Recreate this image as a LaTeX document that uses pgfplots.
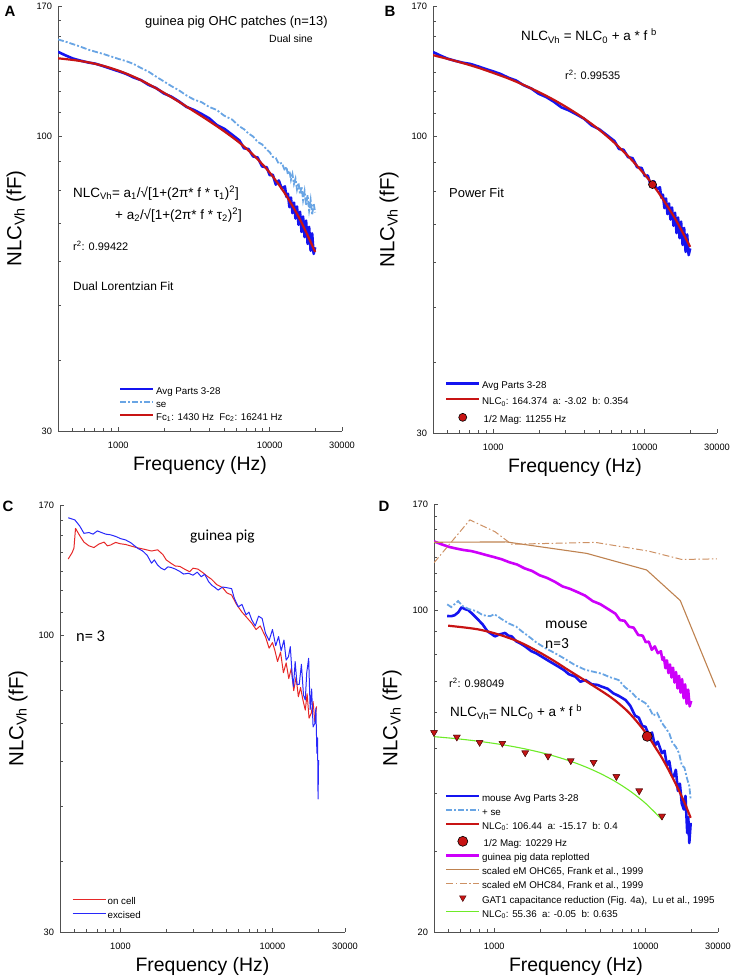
\documentclass[border=0pt]{standalone}
\usepackage{fontspec}
\setmainfont{Liberation Sans}
\newfontfamily\calib{Carlito}
\usepackage{pgfplots}
\usepackage{pgfplotstable}
\pgfplotsset{compat=1.18}

\definecolor{avgblue}{RGB}{20,20,240}
\definecolor{seblue}{RGB}{105,165,228}
\definecolor{fitred}{RGB}{200,20,20}
\definecolor{magenta2}{RGB}{205,0,250}
\definecolor{brown1}{RGB}{190,130,80}
\definecolor{brown2}{RGB}{205,145,100}
\definecolor{green1}{RGB}{110,235,40}
\definecolor{axgray}{RGB}{80,80,80}
\definecolor{cred}{RGB}{230,40,40}
\definecolor{cblue}{RGB}{40,40,250}
\definecolor{tridark}{RGB}{90,20,20}

% guinea pig OHC patches: frequency, average, average + se
\pgfplotstableread{
f avg se
400 141.0 148.3
447 139.0 147.0
501 137.2 145.5
562 136.0 144.0
631 135.0 142.3
708 134.3 141.0
794 133.0 139.8
891 131.6 138.4
1000 130.3 137.0
1122 128.9 135.8
1259 127.0 134.2
1413 125.6 132.0
1585 123.2 130.0
1778 121.6 127.4
1995 119.0 125.0
2239 117.4 122.6
2512 115.2 120.5
2818 112.6 118.0
3162 111.2 116.0
3548 109.4 114.8
3981 107.5 112.6
4467 104.6 111.2
5012 103.0 108.6
5623 100.6 107.0
6310 98.2 104.0
6761 95.1 102.8
7244 94.8 101.0
7762 92.0 99.8
8318 91.6 97.6
8913 88.3 96.6
9550 88.0 94.6
10000 85.2 93.6
10471 85.4 91.8
10965 82.0 91.4
11482 83.4 89.2
12023 80.6 89.6
12589 81.4 86.8
12882 78.0 88.2
13183 79.0 85.4
13490 74.8 86.8
13804 77.8 83.6
14125 73.0 85.6
14454 76.2 82.2
14791 71.4 84.0
15136 75.0 80.4
15488 69.6 82.6
15849 73.4 78.8
16218 67.6 81.4
16596 72.0 77.0
16982 66.2 79.8
17378 70.8 75.4
17783 64.4 78.6
18197 69.0 73.8
18621 62.6 77.0
19055 67.2 72.4
19498 61.8 76.0
19953 63.5 73.2
}\gpdata

\pgfplotstableread{
f y
400 137.3
500 136.4
630 135.1
800 133.1
1000 130.6
1260 127.4
1580 123.6
2000 119.3
2510 115.0
3160 110.6
3980 106.3
5010 101.9
6310 97.3
7940 92.1
10000 86.1
12590 79.1
15850 71.1
19950 62.3
}\fitA

\pgfplotstableread{
f y
400 139.2
500 137.1
630 134.8
800 132.2
1000 129.5
1260 126.6
1580 123.4
2000 119.8
2510 116.1
3160 112.0
3980 107.6
5010 102.8
6310 97.5
7940 91.8
10000 85.7
11255 82.3
12590 79.0
15850 71.7
19950 63.9
}\fitB

\pgfplotstableread{
f y
453 136.5
480 140.0
494 142.6
506 154.6
540 150.0
575 146.2
620 144.0
669 143.0
720 145.0
780 146.2
820 144.0
862 144.5
930 146.0
1000 145.2
1080 144.8
1170 143.9
1300 142.8
1435 142.0
1600 141.0
1755 141.7
1900 139.0
2000 136.0
2153 134.1
2300 132.6
2450 132.5
2640 131.0
2850 129.6
3000 131.5
3234 131.0
3500 129.0
3700 127.4
3974 125.7
4300 123.0
4700 121.5
5000 119.0
5385 117.9
5800 113.5
6300 110.0
6800 107.5
7300 105.2
7800 102.5
8300 104.0
8990 99.6
9500 95.0
10000 97.2
10350 94.3
10800 90.0
11300 93.5
11800 86.0
12300 89.5
12800 84.0
13300 87.5
13800 80.0
14300 84.5
14800 78.0
15300 81.0
15860 77.0
16440 73.9
16900 79.0
17400 71.5
18000 73.0
18500 76.5
19000 70.5
19500 75.0
}\oncell

\pgfplotstableread{
f y
453 161.4
501 160.0
540 156.0
575 151.5
620 152.0
660 151.0
704 153.0
750 152.0
800 151.0
860 150.6
930 149.6
1000 148.3
1080 147.5
1170 145.8
1296 142.6
1400 141.0
1500 138.5
1600 134.2
1670 136.0
1754 133.2
1850 131.5
1946 130.6
2050 132.2
2151 131.9
2300 131.0
2450 129.8
2600 128.4
2803 128.8
3000 127.8
3200 129.4
3400 127.0
3584 128.3
3800 124.5
4000 122.6
4200 121.5
4387 120.3
4700 121.8
5000 121.5
5385 121.0
5600 116.5
5953 112.4
6300 113.5
6700 108.8
7000 110.0
7307 106.6
7700 104.0
8100 108.2
8550 107.2
8990 101.0
9500 98.0
10000 102.5
10500 96.0
10970 99.6
11400 94.0
11900 98.2
12300 90.5
12740 91.8
13100 95.6
13500 84.5
13740 81.3
14100 90.0
14500 82.0
15000 82.0
15500 89.0
16000 78.5
16440 77.0
16800 86.0
17300 91.2
17700 74.0
18100 80.5
18500 69.0
19000 70.0
19300 74.5
19600 62.0
19800 66.0
19950 51.5
20100 60.3
}\excised

\pgfplotstableread{
f y
489 97.1
520 97.0
549 97.5
580 99.0
608 101.4
640 100.5
673 100.0
720 98.0
783 95.3
840 93.0
900 90.0
1010 87.7
1080 88.5
1177 89.2
1240 88.0
1302 87.7
1400 85.5
1500 84.5
1597 83.4
1750 81.5
1900 80.5
2052 79.3
2300 77.5
2650 75.4
2900 74.0
3100 72.6
3425 71.7
3700 69.9
4000 70.5
4400 69.0
4800 68.8
5120 68.2
5600 67.5
6100 66.0
6700 65.0
7360 63.8
7900 62.0
8500 59.0
9000 58.4
9500 56.0
9960 55.8
10500 53.5
11000 54.2
11500 50.8
12000 51.8
12780 48.9
13300 49.5
13800 46.0
14300 47.0
14800 43.8
15300 43.5
15800 45.0
16300 40.5
16800 42.0
17300 38.0
17850 36.9
18300 39.5
18800 32.8
19100 35.5
19400 31.2
19800 34.5
}\mouseavg

\pgfplotstableread{
f y
489 102.9
520 101.5
577 104.6
620 102.0
680 100.5
760 99.5
840 97.5
940 97.0
1000 98.0
1118 95.6
1250 93.5
1400 92.0
1515 90.0
1700 87.5
1900 85.0
2200 82.5
2520 80.6
2900 78.5
3400 76.0
3990 74.2
4500 73.5
5100 72.8
5800 71.5
6620 70.5
7300 68.0
8000 66.5
8700 64.5
9960 62.8
10500 61.5
11200 59.0
11900 59.8
12780 56.9
13500 55.5
14300 54.0
15000 51.5
15800 50.5
16600 48.9
17300 46.0
18000 45.5
18800 42.9
19400 41.5
19800 38.8
}\mousese

\pgfplotstableread{
f y
496 92.5
650 91.6
783 90.8
950 89.5
1118 88.1
1400 85.8
1680 83.4
2050 80.5
2525 77.3
3100 74.0
3770 71.1
4600 68.2
5680 65.2
6600 62.8
7700 60.0
9000 56.6
10400 53.2
11500 50.5
12780 47.8
14500 44.3
16600 40.5
18200 37.9
19800 35.4
}\fitD

\pgfplotstableread{
f y
400 140.4
1207 140.6
4070 132.8
10140 122.2
16900 104.9
29000 68.0
}\ohcA

\pgfplotstableread{
f y
400 126.7
690 157.0
1010 148.0
1302 139.0
4650 140.3
10450 134.3
17300 128.8
29500 129.2
}\ohcB

\pgfplotstableread{
f y
400 54.2
566 53.0
800 51.6
1131 51.4
1600 49.0
2263 48.2
3200 47.1
4525 46.7
6400 43.5
9051 40.5
12800 35.7
}\gatone

\pgfplotstableread{
f y
400 53.11
500 52.77
630 52.36
800 51.87
1000 51.34
1260 50.71
1580 49.99
2000 49.12
2510 48.15
3160 47.02
3980 45.70
5010 44.18
6310 42.42
7940 40.39
10000 38.02
12800 35.08
}\gatfit

\pgfplotsset{
  every axis/.append style={
    scale only axis, xmode=log, ymode=log,
    xmin=400, xmax=30000,
    axis x line*=bottom, axis y line*=left,
    axis line style={-, axgray, line width=0.8bp},
    major tick style={axgray, line width=0.7bp},
    minor tick style={axgray, line width=0.7bp},
    major tick length=4bp, minor tick length=2.7bp,
    xtick={1000,10000,30000}, xticklabels={1000,10000,30000},
    minor xtick={500,600,700,800,900,2000,3000,4000,5000,6000,7000,8000,9000,20000},
    tick label style={font=\fontsize{9.3}{10}\selectfont, text=black},
    xticklabel style={yshift=-7.5bp},
    yticklabel style={xshift=-2.5bp},
    xlabel={Frequency (Hz)},
    ylabel={NLC\textsubscript{Vh} (fF)},
    x label style={at={(axis description cs:0.5,0)}, anchor=north, yshift=-22bp, font=\fontsize{19.5}{22}\selectfont},
    y label style={anchor=center, font=\fontsize{20.5}{24}\selectfont},
    legend cell align=left,
    legend style={anchor=north west, draw=none, fill=none,
      inner sep=0pt, outer sep=0pt, column sep=1.5bp,
      font=\fontsize{9.8}{10}\selectfont,
      nodes={inner sep=0pt, text height=7bp, text depth=2bp}},
  },
  /pgfplots/legline/.style={legend image code/.code={\draw[#1] (0bp,3bp) -- (33bp,3bp);}},
  /pgfplots/legmark/.style={legend image code/.code={\path[#1] plot coordinates {(16.5bp,3bp)};}},
}

\begin{document}
\begin{tikzpicture}
\path[use as bounding box] (0,0) rectangle (736bp,978bp);

% ---------------- A
\begin{axis}[at={(58bp,547bp)}, anchor=south west, width=284bp, height=425bp,
  ymin=30, ymax=170, ytick={30,100,170}, yticklabels={30,100,170},
  minor ytick={40,50,60,70,80,90,110,120,130,140,150,160},
  y label style={at={(axis description cs:-0.148,0.5)}},
  legend style={at={(0.2148,0.1025)}, row sep=4.0bp}]
\addplot[avgblue, line width=2.6bp, line join=round, legline={avgblue, line width=2.6bp}] table[x=f,y=avg]{\gpdata};
\addlegendentry{Avg Parts 3-28}
\addplot[seblue, line width=1.8bp, dash pattern=on 6bp off 2bp on 2bp off 2bp, legline={seblue, line width=1.8bp, dash pattern=on 6bp off 2bp on 2bp off 2bp}] table[x=f,y=se]{\gpdata};
\addlegendentry{se}
\addplot[fitred, line width=2.2bp, smooth, legline={fitred, line width=2.2bp}] table[x=f,y=y]{\fitA};
\addlegendentry{Fc\textsubscript{1}: 1430 Hz~~Fc\textsubscript{2}: 16241 Hz}
\end{axis}

% ---------------- B
\begin{axis}[at={(433bp,545bp)}, anchor=south west, width=284bp, height=427bp,
  ymin=30, ymax=170, ytick={30,100,170}, yticklabels={30,100,170},
  minor ytick={40,50,60,70,80,90,110,120,130,140,150,160},
  y label style={at={(axis description cs:-0.155,0.5)}},
  legend style={at={(0.042,0.120)}, row sep=6.8bp}]
\addplot[avgblue, line width=2.6bp, line join=round, legline={avgblue, line width=2.6bp}] table[x=f,y=avg]{\gpdata};
\addlegendentry{Avg Parts 3-28}
\addplot[fitred, line width=2.2bp, smooth, legline={fitred, line width=2.2bp}] table[x=f,y=y]{\fitB};
\addlegendentry{NLC\textsubscript{0}: 164.374~~a: -3.02~~b: 0.354}
\addplot[only marks, mark=*, mark size=4bp, mark options={fill=fitred, draw=black, line width=0.6bp},
  legmark={mark=*, mark size=4bp, mark options={fill=fitred, draw=black, line width=0.6bp}}] coordinates {(11255,82.3)};
\addlegendentry{\,1/2 Mag: 11255 Hz}
\end{axis}

% ---------------- C
\begin{axis}[at={(60bp,46bp)}, anchor=south west, width=285bp, height=427bp,
  ymin=30, ymax=170, ytick={30,100,170}, yticklabels={30,100,170},
  minor ytick={40,50,60,70,80,90,110,120,130,140,150,160},
  y label style={at={(axis description cs:-0.147,0.5)}},
  legend style={at={(0.042,0.0803)}, row sep=5bp}]
\addplot[cred, line width=1bp, line join=round, legline={cred, line width=1.2bp}] table[x=f,y=y]{\oncell};
\addlegendentry{on cell}
\addplot[cblue, line width=1bp, line join=round, legline={cblue, line width=1.2bp}] table[x=f,y=y]{\excised};
\addlegendentry{excised}
\end{axis}

% ---------------- D
\begin{axis}[at={(434bp,46bp)}, anchor=south west, width=284bp, height=428bp,
  ymin=20, ymax=170, ytick={20,100,170}, yticklabels={20,100,170},
  minor ytick={30,40,50,60,70,80,90,110,120,130,140,150,160},
  y label style={at={(axis description cs:-0.148,0.5)}},
  legend style={at={(0.0387,0.3217)}, row sep=5bp}]
\addplot[avgblue, line width=2.6bp, line join=round, legline={avgblue, line width=2.6bp}] table[x=f,y=y]{\mouseavg};
\addlegendentry{mouse Avg Parts 3-28}
\addplot[seblue, line width=1.8bp, dash pattern=on 6bp off 2bp on 2bp off 2bp, legline={seblue, line width=1.8bp, dash pattern=on 6bp off 2bp on 2bp off 2bp}] table[x=f,y=y]{\mousese};
\addlegendentry{+ se}
\addplot[fitred, line width=2.2bp, smooth, legline={fitred, line width=2.2bp}] table[x=f,y=y]{\fitD};
\addlegendentry{NLC\textsubscript{0}: 106.44~~a: -15.17~~b: 0.4}
\addplot[only marks, mark=*, mark size=5bp, mark options={fill=fitred, draw=black, line width=0.6bp},
  legmark={mark=*, mark size=5bp, mark options={fill=fitred, draw=black, line width=0.6bp}}] coordinates {(10229,53.2)};
\addlegendentry{\,1/2 Mag: 10229 Hz}
\addplot[magenta2, line width=2.6bp, line join=round, legline={magenta2, line width=2.6bp}] table[x=f,y=avg]{\gpdata};
\addlegendentry{guinea pig data replotted}
\addplot[brown1, line width=1.1bp, legline={brown1, line width=1.2bp}] table[x=f,y=y]{\ohcA};
\addlegendentry{scaled eM OHC65, Frank et al., 1999}
\addplot[brown2, line width=1bp, dash pattern=on 7bp off 2.5bp on 1.5bp off 2.5bp, legline={brown2, line width=1.1bp, dash pattern=on 7bp off 2.5bp on 1.5bp off 2.5bp}] table[x=f,y=y]{\ohcB};
\addlegendentry{scaled eM OHC84, Frank et al., 1999}
\addplot[only marks, mark=triangle*, mark size=3.8bp, mark options={rotate=180, fill=fitred, draw=tridark, line width=0.5bp},
  legmark={mark=triangle*, mark size=3.8bp, mark options={rotate=180, fill=fitred, draw=tridark, line width=0.5bp}}] table[x=f,y=y]{\gatone};
\addlegendentry{GAT1 capacitance reduction (Fig. 4a),~~Lu et al., 1995}
\addplot[green1, line width=1.1bp, smooth, legline={green1, line width=1.3bp}] table[x=f,y=y]{\gatfit};
\addlegendentry{NLC\textsubscript{0}: 55.36~~a: -0.05~~b: 0.635}
\addplot[forget plot, only marks, mark=triangle*, mark size=3.8bp, mark options={rotate=180, fill=fitred, draw=tridark, line width=0.5bp}] table[x=f,y=y]{\gatone};
\end{axis}

% ---------------- panel letters
\node[font=\fontsize{15}{16}\selectfont\bfseries] at (10bp,967bp) {A};
\node[font=\fontsize{15}{16}\selectfont\bfseries] at (390bp,967bp) {B};
\node[font=\fontsize{15}{16}\selectfont\bfseries] at (8bp,472bp) {C};
\node[font=\fontsize{15}{16}\selectfont\bfseries] at (384bp,472bp) {D};

% ---------------- annotations A
\node[anchor=west, inner sep=0pt, font=\fontsize{13}{14}\selectfont] at (145bp,956bp) {guinea pig OHC patches (n=13)};
\node[anchor=west, inner sep=0pt, font=\fontsize{10.5}{12}\selectfont] at (269bp,939bp) {Dual sine};
\node[anchor=west, inner sep=0pt, font=\fontsize{13.5}{15}\selectfont] at (73bp,785bp) {NLC\textsubscript{Vh}= a\textsubscript{1}/√[1+(2π* f * τ\textsubscript{1})\textsuperscript{2}]};
\node[anchor=west, inner sep=0pt, font=\fontsize{13.5}{15}\selectfont] at (115bp,763bp) {+ a\textsubscript{2}/√[1+(2π* f * τ\textsubscript{2})\textsuperscript{2}]};
\node[anchor=west, inner sep=0pt, font=\fontsize{11}{12}\selectfont] at (73bp,732bp) {r\textsuperscript{2}: 0.99422};
\node[anchor=west, inner sep=0pt, font=\fontsize{12}{13}\selectfont] at (73bp,692bp) {Dual Lorentzian Fit};

% ---------------- annotations B
\node[anchor=west, inner sep=0pt, font=\fontsize{13.5}{15}\selectfont] at (521bp,942bp) {NLC\textsubscript{Vh} = NLC\textsubscript{0} + a * f \textsuperscript{b}};
\node[anchor=west, inner sep=0pt, font=\fontsize{11}{12}\selectfont] at (565bp,903bp) {r\textsuperscript{2}: 0.99535};
\node[anchor=west, inner sep=0pt, font=\fontsize{13}{14}\selectfont] at (449bp,785bp) {Power Fit};

% ---------------- annotations C
\node[anchor=west, inner sep=0pt, font=\calib\fontsize{15.5}{17}\selectfont] at (190bp,441bp) {guinea pig};
\node[anchor=west, inner sep=0pt, font=\calib\fontsize{16.5}{18}\selectfont] at (76bp,342bp) {n= 3};

% ---------------- annotations D
\node[anchor=west, inner sep=0pt, font=\calib\fontsize{15.5}{17}\selectfont] at (545bp,353bp) {mouse};
\node[anchor=west, inner sep=0pt, font=\calib\fontsize{15.5}{17}\selectfont] at (545bp,334bp) {n=3};
\node[anchor=west, inner sep=0pt, font=\fontsize{11}{12}\selectfont] at (449bp,295bp) {r\textsuperscript{2}: 0.98049};
\node[anchor=west, inner sep=0pt, font=\fontsize{13.5}{15}\selectfont] at (450bp,266bp) {NLC\textsubscript{Vh}= NLC\textsubscript{0} + a * f \textsuperscript{b}};
\end{tikzpicture}
\end{document}
